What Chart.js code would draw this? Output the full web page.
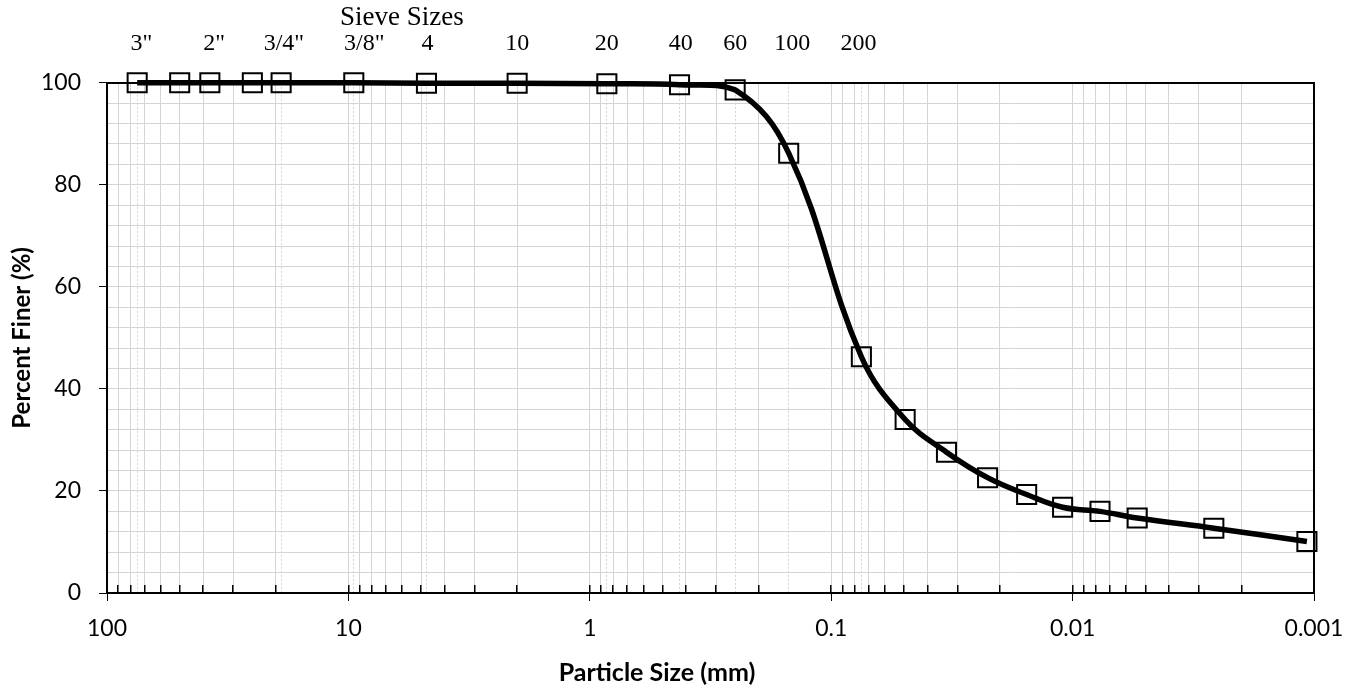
<!DOCTYPE html>
<html>
<head>
<meta charset="utf-8">
<script src="https://cdn.jsdelivr.net/npm/chart.js@4.4.0/dist/chart.umd.min.js"></script>
<style>
  html, body { margin: 0; padding: 0; background: #fff; }
  #wrap { width: 1358px; height: 688px; }
</style>
</head>
<body>
<div id="wrap"><canvas id="chart"></canvas></div>
<script>
// sieve part of the gradation (mm, % finer)
const sieveMm      = [75, 50, 37.5, 25, 19, 9.5, 4.75, 2, 0.85, 0.425, 0.25, 0.15, 0.075];
const sievePassing = [100, 100, 100, 100, 100, 100, 99.9, 99.9, 99.8, 99.6, 98.6, 86.2, 46.3];

// hydrometer part
const hydroMm      = [0.0494, 0.0333, 0.0225, 0.0155, 0.0110, 0.0077, 0.0054, 0.0026, 0.00107];
const hydroPassing = [34.0, 27.6, 22.6, 19.3, 16.8, 16.0, 14.7, 12.7, 10.1];

// top axis: sieve names and where they sit on the mm scale
const sieveNames   = ['3"', '2"', '3/4"', '3/8"', '4', '10', '20', '40', '60', '100', '200'];
const sieveNameMm  = [72, 36, 18.5, 8.6, 4.7, 2, 0.85, 0.42, 0.25, 0.145, 0.077];
const sieveTitle   = 'Sieve Sizes';
const sieveTitleMm = 6;
// dotted guide lines at the standard sieve openings
const sieveGridMm  = [75, 50, 19, 9.5, 4.75, 2, 0.85, 0.425, 0.25, 0.15, 0.075];

// bottom axis
const decades      = [100, 10, 1, 0.1, 0.01, 0.001];
const decadeLabels = ['100', '10', '1', '0.1', '0.01', '0.001'];
const yLabelStep   = 20;

const points = sieveMm.map((x, i) => ({ x, y: sievePassing[i] }))
  .concat(hydroMm.map((x, i) => ({ x, y: hydroPassing[i] })));

const GRID = '#d4d4d4';
const NONE = 'rgba(0,0,0,0)';
const decadeIndex = v => decades.findIndex(d => Math.abs(v / d - 1) < 1e-6);

// 1..9 per decade for the log grid
function logGridTicks(axis) {
  const ticks = [];
  decades.slice(1).forEach(d => {
    for (let m = 1; m <= 9; m++) ticks.push({ value: m * d });
  });
  ticks.push({ value: decades[0] });
  axis.ticks = ticks;
}

// short inside tick marks: only the last few px of each grid line are drawn
const innerTick = ctx => {
  const a = ctx.chart.chartArea;
  if (!a) return [];
  const h = a.bottom - a.top;
  return [0, h - 8, 8, h];
};

const topTicks = sieveNameMm.map((v, i) => ({ value: v, label: sieveNames[i] }));
const titleIdx = topTicks.push({ value: sieveTitleMm, label: [sieveTitle, ''] }) - 1;

Chart.defaults.font.family = 'Lato';
Chart.defaults.color = '#000';

new Chart(document.getElementById('chart'), {
  type: 'line',
  data: {
    datasets: [{
      data: points,
      borderColor: '#000',
      borderWidth: 5.5,
      tension: 0.4,
      pointStyle: 'rect',
      pointRadius: 13.5,
      pointBorderWidth: 2,
      pointBorderColor: '#000',
      pointBackgroundColor: NONE,
      clip: false,
    }],
  },
  options: {
    responsive: true,
    maintainAspectRatio: false,
    animation: false,
    layout: { padding: { left: 0, right: 44, top: 5, bottom: 0 } },
    plugins: {
      legend: { display: false },
      tooltip: { enabled: false },
      title: {
        display: true,
        position: 'bottom',
        text: 'Particle Size (mm)',
        color: '#000',
        font: { family: 'Lato', size: 25, weight: 'bold', lineHeight: 1 },
        padding: { top: 4, bottom: 3 },
      },
    },
    scales: {
      x: {
        type: 'logarithmic',
        position: 'bottom',
        reverse: true,
        min: 0.001,
        max: 100,
        afterBuildTicks: logGridTicks,
        ticks: {
          autoSkip: false,
          maxRotation: 0,
          padding: 16,
          font: { size: 23, lineHeight: 1 },
          callback: v => { const i = decadeIndex(v); return i >= 0 ? decadeLabels[i] : ''; },
        },
        grid: {
          color: GRID,
          tickLength: 8,
          tickColor: ctx => decadeIndex(ctx.tick.value) >= 0 ? '#000' : NONE,
        },
        border: { color: '#000', width: 2 },
      },
      xSieve: {
        axis: 'x',
        type: 'logarithmic',
        position: 'bottom',
        reverse: true,
        min: 0.001,
        max: 100,
        afterBuildTicks: axis => { axis.ticks = sieveGridMm.map(v => ({ value: v })); },
        ticks: { display: false },
        grid: { color: GRID, drawTicks: false },
        border: { display: false, dash: [2, 2] },
      },
      xMinor: {
        axis: 'x',
        type: 'logarithmic',
        position: 'bottom',
        reverse: true,
        min: 0.001,
        max: 100,
        afterBuildTicks: logGridTicks,
        ticks: { display: false },
        grid: { color: '#000', lineWidth: 1.5, drawTicks: false },
        border: { display: false, dash: innerTick },
      },
      xTop: {
        axis: 'x',
        type: 'logarithmic',
        position: 'top',
        reverse: true,
        min: 0.001,
        max: 100,
        afterBuildTicks: axis => { axis.ticks = topTicks.map(t => ({ value: t.value })); },
        ticks: {
          autoSkip: false,
          maxRotation: 0,
          padding: 0,
          font: ctx => ctx.index === titleIdx
            ? { family: 'Liberation Serif', size: 27, lineHeight: 0.94 }
            : { family: 'Liberation Serif', size: 24, lineHeight: 1 },
          callback: (v, i) => topTicks[i].label,
        },
        grid: { drawOnChartArea: false, tickLength: 27, tickColor: NONE },
        border: { color: '#000', width: 2 },
      },
      y: {
        min: 0,
        max: 100,
        ticks: {
          stepSize: 4,
          autoSkip: false,
          padding: 18,
          font: { size: 23, lineHeight: 1 },
          callback: v => v % yLabelStep === 0 ? String(v) : '',
        },
        grid: {
          color: GRID,
          tickLength: 8,
          tickColor: ctx => ctx.tick.value % yLabelStep === 0 ? '#000' : NONE,
        },
        border: { color: '#000', width: 2 },
        title: {
          display: true,
          text: 'Percent Finer (%)',
          color: '#000',
          font: { family: 'Lato', size: 24, weight: 'bold', lineHeight: 1 },
          padding: { top: 10, bottom: -11 },
        },
      },
      yRight: {
        axis: 'y',
        position: 'right',
        min: 0,
        max: 100,
        ticks: { display: false },
        grid: { drawOnChartArea: false, drawTicks: false },
        border: { color: '#000', width: 2 },
      },
    },
  },
});
</script>
</body>
</html>
